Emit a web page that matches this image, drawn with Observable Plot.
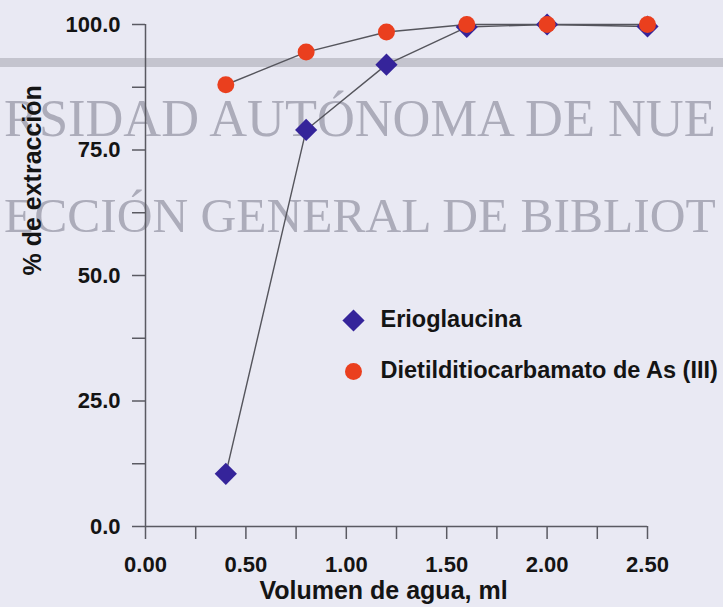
<!DOCTYPE html>
<html><head><meta charset="utf-8">
<script src="https://cdn.jsdelivr.net/npm/d3@7"></script>
<script src="https://cdn.jsdelivr.net/npm/@observablehq/plot@0.6"></script>
<style>
html,body{margin:0;padding:0;background:#e9e9f3;}
#wrap{position:relative;width:723px;height:607px;overflow:hidden;}
#bg{position:absolute;left:0;top:0;}
#chart{position:absolute;left:0;top:0;}
</style></head><body>
<div id="wrap"><svg id="bg" width="723" height="607"></svg><div id="chart"></div></div>
<script>
// ---- data ----
const volumen = [0.4, 0.8, 1.2, 1.6, 2.0, 2.5];
const erioglaucina = [10.5, 79, 92, 99.5, 100, 99.6];
const dietil = [88, 94.5, 98.5, 100, 100, 100];
const series = ["Erioglaucina", "Dietilditiocarbamato de As (III)"];
const xMajor = [0, 0.5, 1.0, 1.5, 2.0, 2.5];
const xMinor = [0, 0.25, 0.5, 0.75, 1.0, 1.25, 1.5, 1.75, 2.0, 2.25, 2.5];
const yMajor = [0, 25, 50, 75, 100];
const yMinor = [0, 12.5, 25, 37.5, 50, 62.5, 75, 87.5, 100];
const watermark = ["RSIDAD AUTÓNOMA DE NUE", "ECCIÓN GENERAL DE BIBLIOT"];

const blue = "#35249a", red = "#ea3f1e", axisColor = "#5a5a62", ink = "#141414";
const font = "'Liberation Sans', Arial, sans-serif";

// ---- faint scan watermark behind the chart ----
const bg = d3.select("#bg");
bg.append("rect").attr("x", 0).attr("y", 58).attr("width", 723).attr("height", 9).attr("fill", "#c4c4ce");
bg.selectAll("text.wm").data(watermark).join("text")
  .attr("x", 4)
  .attr("y", (d, i) => i ? 232 : 136)
  .attr("font-family", "'Liberation Serif', 'DejaVu Serif', serif")
  .attr("font-size", 50).attr("fill", "#acacba")
  .text(d => d)
  .each(function() {
    const w = this.getComputedTextLength();
    const fs = Math.min(60, 50 * 712 / w);
    this.setAttribute("font-size", fs.toFixed(1));
  });

// ---- chart ----
const rows = volumen.flatMap((v, i) => [
  {x: v, y: erioglaucina[i], s: series[0]},
  {x: v, y: dietil[i], s: series[1]}
]);

const plot = Plot.plot({
  width: 723, height: 607,
  marginLeft: 145, marginRight: 76, marginTop: 24, marginBottom: 81,
  style: {background: "transparent", fontFamily: font, color: ink},
  x: {domain: [0, 2.5]},
  y: {domain: [0, 100]},
  marks: [
    Plot.axisX({ticks: xMinor, tickSize: 13, tickFormat: () => "", label: null, stroke: axisColor, strokeWidth: 1.5}),
    Plot.axisX({ticks: xMajor, tickSize: 0, tickPadding: 30, tickFormat: d3.format(".2f"), label: null,
      fontSize: 22, fontWeight: "bold", fill: ink}),
    Plot.axisY({ticks: yMinor, tickSize: 13, tickFormat: () => "", label: null, stroke: axisColor, strokeWidth: 1.5}),
    Plot.axisY({ticks: yMajor, tickSize: 0, tickPadding: 25, tickFormat: d3.format(".1f"), label: null,
      fontSize: 22, fontWeight: "bold", fill: ink}),
    Plot.ruleY([0], {x1: 0, x2: 2.5, stroke: axisColor, strokeWidth: 1.5}),
    Plot.ruleX([0], {y1: 0, y2: 100, stroke: axisColor, strokeWidth: 1.5}),
    Plot.line(rows, {x: "x", y: "y", z: "s", stroke: "#55555c", strokeWidth: 1.4}),
    Plot.dot(rows.filter(d => d.s === series[0]), {x: "x", y: "y", symbol: "diamond2", r: 10, fill: blue}),
    Plot.dot(rows.filter(d => d.s === series[1]), {x: "x", y: "y", r: 8.5, fill: red}),
    // legend
    Plot.dot([series[0]], {frameAnchor: "top-left", dx: 208, dy: 296, symbol: "diamond2", r: 10, fill: blue}),
    Plot.dot([series[1]], {frameAnchor: "top-left", dx: 208, dy: 347, r: 8.5, fill: red}),
    Plot.text([series[0]], {text: d => d, frameAnchor: "top-left", dx: 235, dy: 295,
      textAnchor: "start", lineAnchor: "middle", fontSize: 23.5, fontWeight: "bold", fill: ink}),
    Plot.text([series[1]], {text: d => d, frameAnchor: "top-left", dx: 235, dy: 346,
      textAnchor: "start", lineAnchor: "middle", fontSize: 23.5, fontWeight: "bold", fill: ink}),
    // axis titles
    Plot.text(["% de extracción"], {text: d => d, frameAnchor: "left", dx: -113, rotate: -90,
      lineAnchor: "middle", fontSize: 25, fontWeight: "bold", fill: ink}),
    Plot.text(["Volumen de agua, ml"], {text: d => d, frameAnchor: "bottom", dx: -13, dy: 64,
      lineAnchor: "middle", fontSize: 25, fontWeight: "bold", fill: ink})
  ]
});
document.getElementById("chart").appendChild(plot);
</script>
</body></html>
